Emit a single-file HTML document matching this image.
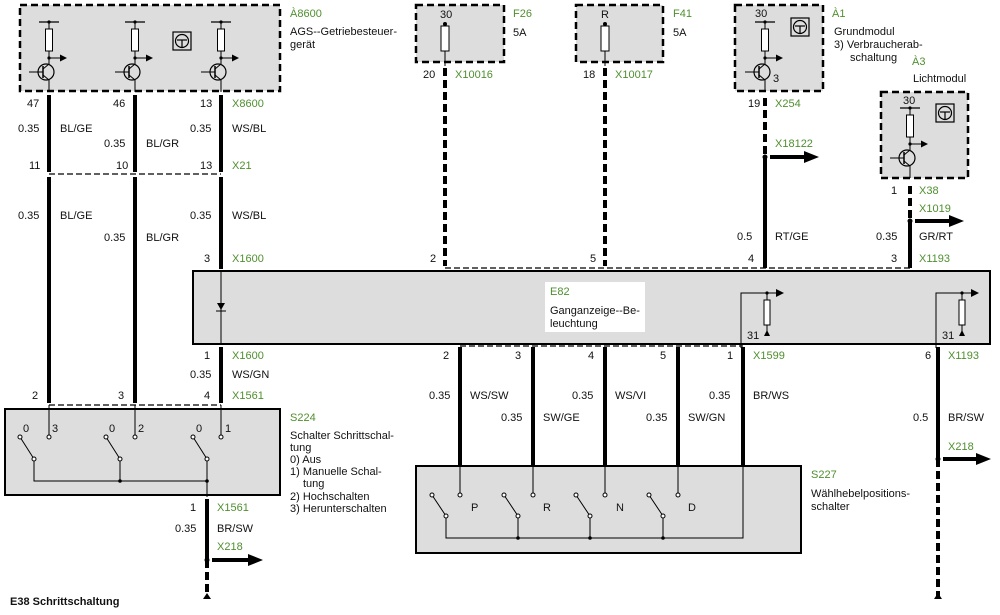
<!DOCTYPE html>
<html><head><meta charset="utf-8"><style>
html,body{margin:0;padding:0;background:#fff;}
svg{display:block;}
text{font-family:"Liberation Sans",Arial,sans-serif;font-size:11px;fill:#111;}
.g{fill:#4f8f2f;}
</style></head><body>
<svg width="1000" height="615" viewBox="0 0 1000 615" xmlns="http://www.w3.org/2000/svg">
<defs>
<g id="tr">
  <line x1="-10" y1="-50" x2="10" y2="-50" stroke="#000" stroke-width="1.2"/>
  <line x1="0" y1="-50" x2="0" y2="-43" stroke="#000"/>
  <circle cx="0" cy="-50" r="1.6"/>
  <rect x="-3.5" y="-43" width="7" height="22" fill="#fff" stroke="#000"/>
  <line x1="0" y1="-21" x2="0" y2="-8" stroke="#000"/>
  <circle cx="0" cy="-14" r="1.6"/>
  <line x1="0" y1="-14" x2="12" y2="-14" stroke="#000"/>
  <polygon points="11,-17.5 18,-14 11,-10.5"/>
  <circle cx="-3" cy="0" r="8" fill="none" stroke="#000" stroke-width="1.2"/>
  <line x1="-20" y1="0" x2="-6" y2="0" stroke="#000"/>
  <line x1="-6" y1="-6" x2="-6" y2="6" stroke="#000" stroke-width="1.5"/>
  <line x1="-6" y1="-3" x2="0" y2="-8" stroke="#000"/>
  <line x1="-6" y1="3" x2="0" y2="8" stroke="#000"/>
  <line x1="0" y1="8" x2="0" y2="20" stroke="#000"/>
</g>
<g id="ic">
  <rect x="-9" y="-9" width="18" height="18" fill="#ddd" stroke="#000" stroke-width="1.2"/>
  <circle cx="0" cy="0" r="6.5" fill="none" stroke="#000" stroke-width="1.2"/>
  <line x1="-5" y1="-1" x2="5" y2="-1" stroke="#000" stroke-width="1.2"/>
  <line x1="0" y1="-1" x2="0" y2="6" stroke="#000" stroke-width="1.2"/>
</g>
</defs>

<!-- A8600 -->
<rect x="20" y="5" width="260" height="86" fill="#ddd" stroke="#000" stroke-width="2.5" stroke-dasharray="7,4"/>
<use href="#tr" x="49" y="72"/>
<use href="#tr" x="135" y="72"/>
<use href="#tr" x="221" y="72"/>
<use href="#ic" x="182" y="41"/>
<text x="290" y="17" class="g">À8600</text>
<text x="290" y="35">AGS--Getriebesteuer-</text>
<text x="290" y="48">gerät</text>

<!-- top left wires -->
<g stroke="#000" stroke-width="4">
<line x1="49" y1="95" x2="49" y2="172"/><line x1="135" y1="95" x2="135" y2="172"/><line x1="221" y1="95" x2="221" y2="172"/>
<line x1="49" y1="177" x2="49" y2="403"/><line x1="135" y1="177" x2="135" y2="403"/><line x1="221" y1="177" x2="221" y2="269"/>
<line x1="221" y1="347" x2="221" y2="403"/>
</g>
<line x1="49" y1="174" x2="221" y2="174" stroke="#000" stroke-width="1.2" stroke-dasharray="6,3"/>
<text x="27" y="107">47</text><text x="113" y="107">46</text><text x="200" y="107">13</text><text x="232" y="107" class="g">X8600</text>
<text x="18" y="132">0.35</text><text x="60" y="132">BL/GE</text>
<text x="104" y="147">0.35</text><text x="146" y="147">BL/GR</text>
<text x="190" y="132">0.35</text><text x="232" y="132">WS/BL</text>
<text x="29" y="169">11</text><text x="116" y="169">10</text><text x="200" y="169">13</text><text x="232" y="169" class="g">X21</text>
<text x="18" y="219">0.35</text><text x="60" y="219">BL/GE</text>
<text x="104" y="241">0.35</text><text x="146" y="241">BL/GR</text>
<text x="190" y="219">0.35</text><text x="232" y="219">WS/BL</text>
<text x="204" y="262">3</text><text x="232" y="262" class="g">X1600</text>

<!-- F26 F41 -->
<rect x="416" y="5" width="88" height="57" fill="#ddd" stroke="#000" stroke-width="2.5" stroke-dasharray="7,4"/>
<rect x="441" y="26" width="8" height="25" fill="#fff" stroke="#000"/><circle cx="445" cy="24" r="2"/><line x1="445" y1="51" x2="445" y2="66" stroke="#000"/>
<text x="440" y="18">30</text>
<text x="513" y="17" class="g">F26</text><text x="513" y="36">5A</text>
<rect x="576" y="5" width="87" height="57" fill="#ddd" stroke="#000" stroke-width="2.5" stroke-dasharray="7,4"/>
<rect x="601" y="26" width="8" height="25" fill="#fff" stroke="#000"/><circle cx="605" cy="24" r="2"/><line x1="605" y1="51" x2="605" y2="66" stroke="#000"/>
<text x="601" y="18">R</text>
<text x="673" y="17" class="g">F41</text><text x="673" y="36">5A</text>
<text x="423" y="78">20</text><text x="455" y="78" class="g">X10016</text>
<text x="583" y="78">18</text><text x="615" y="78" class="g">X10017</text>
<g stroke="#000" stroke-width="4" stroke-dasharray="8,4">
<line x1="445" y1="68" x2="445" y2="266"/><line x1="605" y1="68" x2="605" y2="266"/>
<line x1="765" y1="98" x2="765" y2="157"/><line x1="910" y1="186" x2="910" y2="221"/>
</g>

<!-- A1 -->
<rect x="735" y="5" width="88" height="86" fill="#ddd" stroke="#000" stroke-width="2.5" stroke-dasharray="7,4"/>
<use href="#tr" x="765" y="72"/>
<use href="#ic" x="800" y="27"/>
<text x="755" y="17">30</text><text x="773" y="82">3</text>
<text x="832" y="17" class="g">À1</text>
<text x="834" y="35">Grundmodul</text>
<text x="834" y="48">3) Verbraucherab-</text>
<text x="850" y="61">schaltung</text>
<text x="912" y="65" class="g">À3</text>
<text x="913" y="82">Lichtmodul</text>
<text x="748" y="107">19</text><text x="775" y="107" class="g">X254</text>
<g stroke="#000" stroke-width="4"><line x1="765" y1="157" x2="765" y2="268"/><line x1="910" y1="221" x2="910" y2="268"/>
<line x1="770" y1="157" x2="805" y2="157"/><line x1="915" y1="221" x2="950" y2="221"/></g>
<polygon points="804,151 819,157 804,163"/><polygon points="949,215 964,221 949,227"/>
<circle cx="765" cy="157" r="2.5"/><circle cx="910" cy="221" r="2.5"/>
<text x="775" y="147" class="g">X18122</text>
<!-- A3 -->
<rect x="881" y="92" width="87" height="86" fill="#ddd" stroke="#000" stroke-width="2.5" stroke-dasharray="7,4"/>
<use href="#tr" x="910" y="158"/>
<use href="#ic" x="945" y="113"/>
<text x="903" y="104">30</text>
<text x="891" y="194">1</text><text x="919" y="194" class="g">X38</text>
<text x="919" y="212" class="g">X1019</text>
<text x="737" y="240">0.5</text><text x="775" y="240">RT/GE</text>
<text x="876" y="240">0.35</text><text x="919" y="240">GR/RT</text>
<text x="430" y="262">2</text><text x="590" y="262">5</text><text x="748" y="262">4</text><text x="891" y="262">3</text><text x="919" y="262" class="g">X1193</text>
<line x1="445" y1="268" x2="910" y2="268" stroke="#000" stroke-width="1.2" stroke-dasharray="6,3"/>

<!-- E82 -->
<rect x="193" y="271" width="797" height="73" fill="#ddd" stroke="#000" stroke-width="2"/>
<line x1="221" y1="271" x2="221" y2="344" stroke="#000"/>
<polygon points="217,303 225,303 221,310"/><line x1="216" y1="311" x2="226" y2="311" stroke="#000"/>
<rect x="545" y="282" width="100" height="50" fill="#fff"/>
<text x="550" y="295" class="g">E82</text>
<text x="550" y="314">Ganganzeige--Be-</text>
<text x="550" y="327">leuchtung</text>
<g stroke="#000" fill="none">
<polyline points="741,348 741,293 777,293"/><line x1="767" y1="293" x2="767" y2="300"/><rect x="764" y="300" width="6" height="25" fill="#fff"/><line x1="767" y1="325" x2="767" y2="334"/>
<polyline points="936,348 936,293 972,293"/><line x1="962" y1="293" x2="962" y2="300"/><rect x="959" y="300" width="6" height="25" fill="#fff"/><line x1="962" y1="325" x2="962" y2="334"/>
</g>
<polygon points="776,289 784,293 776,297"/><polygon points="971,289 979,293 971,297"/>
<circle cx="767" cy="293" r="1.6"/><circle cx="962" cy="293" r="1.6"/>
<polygon points="764,336 767,330 770,336"/><polygon points="959,336 962,330 965,336"/>
<text x="747" y="339">31</text><text x="942" y="339">31</text>

<!-- below E82 left -->
<text x="204" y="359">1</text><text x="232" y="359" class="g">X1600</text>
<text x="190" y="378">0.35</text><text x="232" y="378">WS/GN</text>
<text x="32" y="399">2</text><text x="118" y="399">3</text><text x="204" y="399">4</text><text x="232" y="399" class="g">X1561</text>
<line x1="49" y1="405" x2="221" y2="405" stroke="#000" stroke-width="1.2" stroke-dasharray="6,3"/>
<!-- S224 -->
<rect x="5" y="409" width="275" height="86" fill="#ddd" stroke="#000" stroke-width="2"/>
<g stroke="#000" fill="none">
<line x1="49" y1="405" x2="49" y2="437"/><line x1="135" y1="405" x2="135" y2="437"/><line x1="221" y1="405" x2="221" y2="437"/>
<line x1="20" y1="437" x2="34" y2="459"/><line x1="106" y1="437" x2="120" y2="459"/><line x1="193" y1="437" x2="207" y2="459"/>
<polyline points="34,459 34,481 207,481"/><line x1="120" y1="459" x2="120" y2="481"/><line x1="207" y1="459" x2="207" y2="497"/>
<g fill="#fff"><circle cx="20" cy="437" r="2"/><circle cx="49" cy="437" r="2"/><circle cx="34" cy="459" r="2"/>
<circle cx="106" cy="437" r="2"/><circle cx="135" cy="437" r="2"/><circle cx="120" cy="459" r="2"/>
<circle cx="193" cy="437" r="2"/><circle cx="221" cy="437" r="2"/><circle cx="207" cy="459" r="2"/></g>
</g>
<circle cx="120" cy="481" r="1.8"/><circle cx="207" cy="481" r="1.8"/>
<text x="23" y="432">0</text><text x="52" y="432">3</text><text x="109" y="432">0</text><text x="138" y="432">2</text><text x="196" y="432">0</text><text x="225" y="432">1</text>
<text x="290" y="421" class="g">S224</text>
<text x="290" y="439">Schalter Schrittschal-</text>
<text x="290" y="451">tung</text>
<text x="290" y="463">0) Aus</text>
<text x="290" y="475">1) Manuelle Schal-</text>
<text x="303" y="487">tung</text>
<text x="290" y="500">2) Hochschalten</text>
<text x="290" y="512">3) Herunterschalten</text>
<text x="190" y="511">1</text><text x="217" y="511" class="g">X1561</text>
<text x="175" y="532">0.35</text><text x="217" y="532">BR/SW</text>
<text x="217" y="550" class="g">X218</text>
<line x1="207" y1="499" x2="207" y2="560" stroke="#000" stroke-width="4"/>
<line x1="207" y1="560" x2="207" y2="596" stroke="#000" stroke-width="4" stroke-dasharray="8,4"/>
<polygon points="203,599 207,593 211,599"/>
<circle cx="207" cy="560" r="2.5"/>
<line x1="212" y1="560" x2="250" y2="560" stroke="#000" stroke-width="4"/><polygon points="248,554 263,560 248,566"/>
<text x="10" y="605" style="font-weight:bold">E38 Schrittschaltung</text>

<!-- below E82 right -->
<g stroke="#000" stroke-width="4">
<line x1="460" y1="347" x2="460" y2="466"/><line x1="533" y1="347" x2="533" y2="466"/><line x1="605" y1="347" x2="605" y2="466"/><line x1="678" y1="347" x2="678" y2="466"/><line x1="743" y1="347" x2="743" y2="466"/>
<line x1="938" y1="347" x2="938" y2="459"/>
<line x1="943" y1="459" x2="977" y2="459"/>
</g>
<line x1="938" y1="459" x2="938" y2="596" stroke="#000" stroke-width="4" stroke-dasharray="8,4"/>
<polygon points="934,599 938,593 942,599"/>
<circle cx="938" cy="459" r="2.5"/><polygon points="976,453 991,459 976,465"/>
<line x1="460" y1="346" x2="743" y2="346" stroke="#000" stroke-width="1.2" stroke-dasharray="6,3"/>
<text x="443" y="359">2</text><text x="515" y="359">3</text><text x="588" y="359">4</text><text x="660" y="359">5</text><text x="727" y="359">1</text><text x="753" y="359" class="g">X1599</text>
<text x="925" y="359">6</text><text x="948" y="359" class="g">X1193</text>
<text x="429" y="399">0.35</text><text x="470" y="399">WS/SW</text>
<text x="572" y="399">0.35</text><text x="615" y="399">WS/VI</text>
<text x="709" y="399">0.35</text><text x="753" y="399">BR/WS</text>
<text x="501" y="421">0.35</text><text x="543" y="421">SW/GE</text>
<text x="646" y="421">0.35</text><text x="688" y="421">SW/GN</text>
<text x="913" y="421">0.5</text><text x="948" y="421">BR/SW</text>
<text x="948" y="450" class="g">X218</text>
<!-- S227 -->
<rect x="416" y="466" width="385" height="87" fill="#ddd" stroke="#000" stroke-width="2"/>
<g stroke="#000" fill="none">
<line x1="460" y1="466" x2="460" y2="495"/><line x1="533" y1="466" x2="533" y2="495"/><line x1="605" y1="466" x2="605" y2="495"/><line x1="678" y1="466" x2="678" y2="495"/>
<line x1="432" y1="495" x2="446" y2="516"/><line x1="504" y1="495" x2="518" y2="516"/><line x1="576" y1="495" x2="590" y2="516"/><line x1="649" y1="495" x2="663" y2="516"/>
<polyline points="446,516 446,538 743,538 743,466"/><line x1="518" y1="516" x2="518" y2="538"/><line x1="590" y1="516" x2="590" y2="538"/><line x1="663" y1="516" x2="663" y2="538"/>
<g fill="#fff"><circle cx="432" cy="495" r="2"/><circle cx="460" cy="495" r="2"/><circle cx="446" cy="516" r="2"/>
<circle cx="504" cy="495" r="2"/><circle cx="533" cy="495" r="2"/><circle cx="518" cy="516" r="2"/>
<circle cx="576" cy="495" r="2"/><circle cx="605" cy="495" r="2"/><circle cx="590" cy="516" r="2"/>
<circle cx="649" cy="495" r="2"/><circle cx="678" cy="495" r="2"/><circle cx="663" cy="516" r="2"/></g>
</g>
<circle cx="518" cy="538" r="1.8"/><circle cx="590" cy="538" r="1.8"/><circle cx="663" cy="538" r="1.8"/>
<text x="471" y="511">P</text><text x="543" y="511">R</text><text x="616" y="511">N</text><text x="688" y="511">D</text>
<text x="811" y="478" class="g">S227</text>
<text x="811" y="497">Wählhebelpositions-</text>
<text x="811" y="510">schalter</text>
</svg>
</body></html>
